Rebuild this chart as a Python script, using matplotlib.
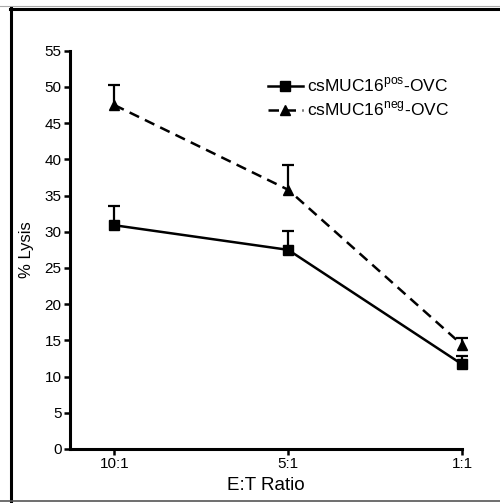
import numpy as np
import matplotlib
matplotlib.use("Agg")
import matplotlib.pyplot as plt
from matplotlib.lines import Line2D

plt.rcParams['font.family'] = ['Liberation Sans', 'DejaVu Sans']

# Daten
ratios = ['10:1', '5:1', '1:1']
pos_mean = [30.9, 27.5, 11.7]
pos_err = [2.7, 2.6, 1.1]
neg_mean = [47.5, 35.8, 14.4]
neg_err = [2.8, 3.4, 0.9]

W, H = 500, 503
fig = plt.figure(figsize=(W / 100, H / 100), dpi=100)
ax = fig.add_axes([70 / W, 1 - 449 / H, (462 - 70) / W, (449 - 50.7) / H])

x = np.arange(len(ratios))
lw = 1.8
dash = (0, (4.2, 2.6))

# nur obere Fehlerbalken
for mean, err in [(pos_mean, pos_err), (neg_mean, neg_err)]:
    _, caps, _ = ax.errorbar(x, mean, yerr=[np.zeros(3), err], fmt='none',
                             ecolor='black', elinewidth=1.6, capsize=4.5,
                             capthick=1.6, clip_on=False, zorder=2)
    caps[0].set_visible(False)

ax.plot(x, pos_mean, color='black', lw=lw, marker='s', ms=6.5,
        label=r'csMUC16$^{\mathregular{pos}}$-OVC', clip_on=False, zorder=3)
ax.plot(x, neg_mean, color='black', lw=lw, ls=dash, marker='^', ms=7.5,
        label=r'csMUC16$^{\mathregular{neg}}$-OVC', clip_on=False, zorder=3)

ax.set_xlim(-0.255, 2.0)
ax.set_ylim(0, 55)
ax.set_yticks(np.arange(0, 56, 5))
ax.set_xticks(x)
ax.set_xticklabels(ratios)
ax.tick_params(direction='out', length=4, width=1.8, labelsize=11, pad=2)
for s in ['top', 'right']:
    ax.spines[s].set_visible(False)
for s in ['left', 'bottom']:
    ax.spines[s].set_linewidth(2.2)

ax.set_ylabel('% Lysis', fontsize=12, labelpad=8)
ax.set_xlabel('E:T Ratio', fontsize=13.5, labelpad=4)

handles, labels = ax.get_legend_handles_labels()
fig.legend(handles, labels, loc='upper left', bbox_to_anchor=(268 / W, 1 - 76 / H),
           frameon=False, fontsize=12.5, handlelength=2.0, handletextpad=0.25,
           borderpad=0, borderaxespad=0, labelspacing=0.3)

# Rahmen um das Bild
fig.add_artist(Line2D([0, 1], [1 - 5.5 / H] * 2, color='#aaaaaa', lw=0.8))
fig.add_artist(Line2D([10 / W, 1], [1 - 8.5 / H] * 2, color='black', lw=2.2))
fig.add_artist(Line2D([11.2 / W] * 2, [1 - 7.5 / H, 0], color='black', lw=2.2))
fig.add_artist(Line2D([0, 1], [1 - 501 / H] * 2, color='#555555', lw=1.2))

fig.savefig('out.png', dpi=100)
